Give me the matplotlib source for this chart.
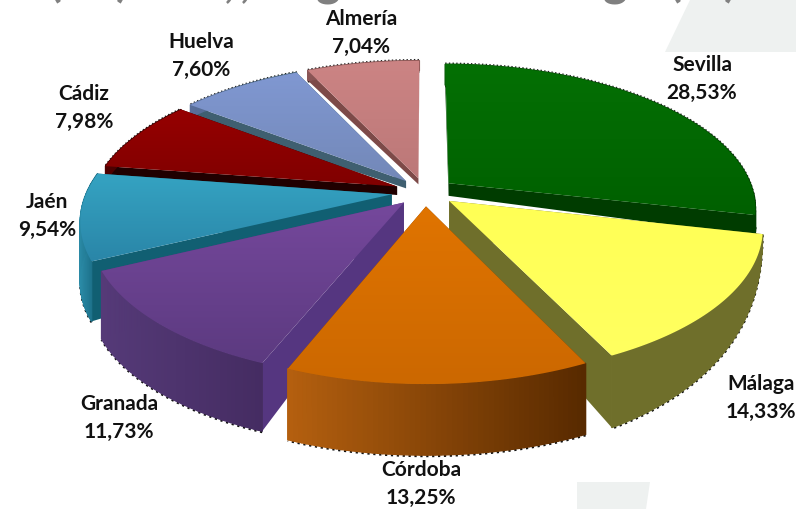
import matplotlib
matplotlib.use("Agg")
import matplotlib.pyplot as plt
import numpy as np
from matplotlib.colors import LinearSegmentedColormap, to_rgb
from matplotlib.patches import Polygon

provinces = ["Sevilla", "Málaga", "Córdoba", "Granada", "Jaén", "Cádiz", "Huelva", "Almería"]
shares = [28.53, 14.33, 13.25, 11.73, 9.54, 7.98, 7.60, 7.04]

top_cols = ["#047004", "#ffff55", "#e07400", "#75489c", "#35a3c2", "#960000", "#8098d2", "#cc8484"]
top_dark = ["#006000", "#ffff60", "#cc6800", "#5c3a80", "#2a86a8", "#800000", "#7388b8", "#bc7878"]
face_cols = ["#003c00", "#6f6f2b", "#7a3c00", "#553680", "#115f72", "#200000", "#3f5f70", "#7d4a48"]
wall_left = ["#0a5a0a", "#6f6f2b", "#b5600f", "#553a78", "#2a8aa6", "#500000", "#5a6f9a", "#8a5555"]
wall_right = ["#003c00", "#6f6f2b", "#582a00", "#452c62", "#17657c", "#300000", "#3f5f70", "#7d4a48"]
explode = [0.1, 0.1, 0.1, 0.1, 0.11, 0.1, 0.1, 0.1]
depth = [21, 72, 71, 68, 60, 14, 12, 10]
label_xy = [(702, 79), (761, 398), (421, 484), (119, 418), (47, 216), (84, 108), (201, 56), (361, 33)]

CX, CY = 425, 192
RX, RY = 305, 142
K = 0.17


def project(x, y):
    s = 1 / (1 + K * y)
    return CX + RX * x * s, CY - RY * y * s


def slice_points(a0, a1, e):
    mid = (a0 + a1) / 2
    ox, oy = e * np.sin(mid), e * np.cos(mid)
    ang = np.linspace(a0, a1, 60)
    ax_, ay_ = project(ox + np.sin(ang), oy + np.cos(ang))
    px, py = project(ox, oy)
    return (px, py), ax_, ay_


def mix(c1, c2, t):
    c1, c2 = np.array(to_rgb(c1)), np.array(to_rgb(c2))
    return tuple(c1 + (c2 - c1) * t)


fig = plt.figure(figsize=(7.96, 5.09), dpi=100)
ax = fig.add_axes([0, 0, 1, 1])
ax.axis("off")

# faint shapes left over from the slide behind the chart
ax.add_patch(Polygon([(690, 0), (796, 0), (796, 52), (665, 52)], color="#eef1f0", lw=0))
ax.add_patch(Polygon([(577, 482), (650, 482), (646, 509), (577, 509)], color="#eef1f0", lw=0))

# bottoms of the slide title, cut off by the crop
for ch, x in zip("(),,gg()", [55, 122, 230, 245, 328, 615, 675, 730]):
    ax.text(x, 4, ch, fontsize=34, color="#808080", fontfamily="Lato", fontweight="bold",
            ha="center", va="bottom", clip_on=True)

edges = np.cumsum([0] + shares) / sum(shares) * 2 * np.pi
z = 2
for i in [7, 6, 0, 5, 4, 1, 3, 2]:
    a0, a1 = edges[i], edges[i + 1]
    (px, py), xs, ys = slice_points(a0, a1, explode[i])
    d = depth[i]
    if i == 1:
        ds = d * np.clip((-np.cos(np.linspace(a0, a1, 60)) - 0.22) / 0.68, 0, 1) ** 0.6
    else:
        ds = np.full(60, d)
    # dotted rim, under the wall so only half of it shows
    ax.plot(xs, ys + ds + 1, ls=":", color="#111111", lw=1.6, zorder=z)
    if i in (0, 7, 6, 5):
        ax.plot(xs, ys - 1, ls=":", color="#222222", lw=1.0, zorder=z)
    # cut faces
    for k in (0, -1):
        ax.add_patch(Polygon([(px, py), (xs[k], ys[k]), (xs[k], ys[k] + ds[k]), (px, py + d * 0.6)],
                             color=face_cols[i], lw=0, zorder=z))
    # outer wall, in strips for the shading
    for j in range(59):
        t = (xs[j] - xs.min()) / (xs.max() - xs.min() + 1e-6)
        ax.add_patch(Polygon([(xs[j], ys[j]), (xs[j + 1], ys[j + 1]),
                              (xs[j + 1], ys[j + 1] + ds[j + 1]), (xs[j], ys[j] + ds[j])],
                             color=mix(wall_left[i], wall_right[i], t), lw=1, zorder=z))
    # top surface with a soft vertical gradient
    outline = Polygon(np.column_stack([np.r_[px, xs], np.r_[py, ys]]), fc="none", lw=0,
                      transform=ax.transData)
    ax.add_patch(outline)
    cmap = LinearSegmentedColormap.from_list("top", [top_cols[i], top_dark[i]])
    x0, x1, y0, y1 = min(xs.min(), px), max(xs.max(), px), min(ys.min(), py), max(ys.max(), py)
    im = ax.imshow(np.linspace(0, 1, 64).reshape(-1, 1), cmap=cmap, aspect="auto",
                   extent=(x0, x1, y1, y0), zorder=z + 0.5)
    im.set_clip_path(outline)
    z += 1

ax.set_xlim(0, 796)
ax.set_ylim(509, 0)

for name, val, (x, y) in zip(provinces, shares, label_xy):
    txt = name + "\n" + f"{val:.2f}".replace(".", ",") + "%"
    ax.text(x, y, txt, ha="center", va="center", fontsize=15, fontfamily="Lato",
            fontweight="bold", color="#111111", linespacing=1.52, zorder=20)

fig.savefig("out.png", dpi=100)
